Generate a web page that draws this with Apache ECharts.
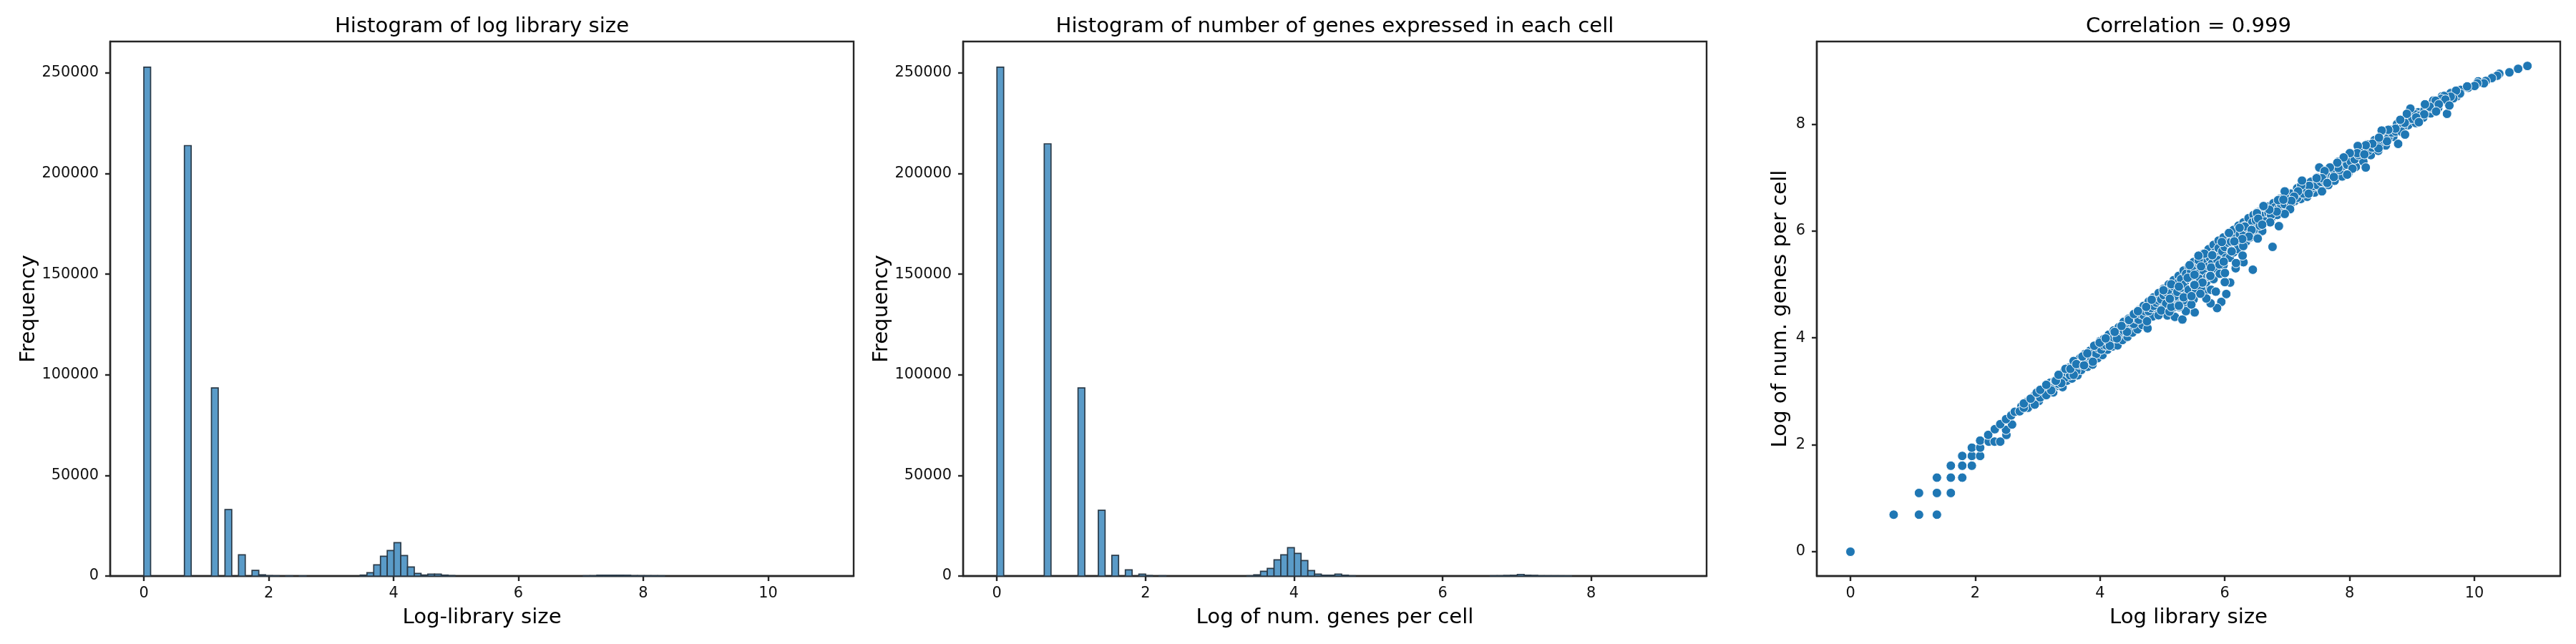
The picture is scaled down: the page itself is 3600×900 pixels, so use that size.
<!DOCTYPE html>
<html><head><meta charset="utf-8">
<style>html,body{margin:0;padding:0;background:#fff}#c{width:3600px;height:900px}</style>
<script src="https://cdn.jsdelivr.net/npm/echarts@6/dist/echarts.min.js"></script>
</head><body><div id="c"></div>
<script>
const titles = ['Histogram of log library size','Histogram of number of genes expressed in each cell','Correlation = 0.999'];
const xNames = ['Log-library size','Log of num. genes per cell','Log library size'];
const yNames = ['Frequency','Frequency','Log of num. genes per cell'];
const xTicks1 = [0,2,4,6,8,10];
const xTicks2 = [0,2,4,6,8];
const xTicks3 = [0,2,4,6,8,10];
const yTicksHist = [0,50000,100000,150000,200000,250000];
const yTicksScatter = [0,2,4,6,8];

const binWidth1 = 0.1083;
const bins1 = [0,6,10,12,14,16,17,18,19,21,23,32,33,34,35,36,37,38,39,40,41,42,43,44,45,65,66,67,68,69,70,71,72,73,74,75,76];
const counts1 = [252900,213900,93500,33000,10500,2800,600,150,100,80,60,450,1660,5570,9800,12700,16600,10200,4500,1300,500,950,950,450,200,100,120,400,420,420,400,380,150,130,120,110,90];

const binWidth2 = 0.091;
const bins2 = [0,7,12,15,17,19,21,22,24,37,38,39,40,41,42,43,44,45,46,47,48,49,50,51,52,73,74,75,76,77,78,79,80,81,82,83,84];
const counts2 = [252900,214800,93500,32700,10300,3100,950,200,100,100,600,2370,3800,8050,10550,14100,11250,7700,2700,950,400,400,950,400,100,100,110,250,350,800,400,300,90,80,80,70,60];

const scatterBand = [
[2.58,2.56],[2.66,2.62],[2.74,2.72],[2.82,2.8],[2.9,2.78],[2.95,2.92],[3.02,2.82],[3.08,3.02],[3.14,3.0],[3.2,3.16],[3.25,2.98],[3.3,3.1],[3.34,3.26],[3.4,3.08],[3.42,3.36],[3.47,3.2],[3.5,3.44],[3.55,3.24],[3.6,3.54],[3.64,3.3],[3.68,3.62],[3.7,3.4],[3.76,3.7],[3.8,3.46],[3.84,3.76],[3.88,3.5],[3.92,3.84],[3.96,3.62],[4.0,3.94],[4.04,3.68],[4.06,3.98],[4.12,3.78],[4.14,4.06],[4.2,3.84],[4.22,4.14],[4.28,3.86],[4.3,4.2],[4.36,3.96],[4.38,4.3],[4.44,4.02],[4.46,4.36],[4.52,4.1],[4.54,4.44],[4.6,4.16],[4.62,4.52],[4.68,4.24],[4.7,4.6],[4.76,4.36],[4.78,4.68],[4.84,4.4],[4.86,4.76],[4.92,4.54],[4.94,4.84],[5.0,4.64],[5.02,4.92],[5.08,4.42],[5.1,5.0],[5.16,4.56],[5.18,5.08],[5.24,4.68],[5.26,5.16],[5.32,4.8],[5.34,5.26],[5.4,4.62],[5.42,5.34],[5.48,4.84],[5.5,5.42],[5.56,4.96],[5.58,5.5],[5.64,4.86],[5.66,5.58],[5.72,4.9],[5.74,5.66],[5.8,5.2],[5.82,5.74],[5.88,5.24],[5.9,5.82],[5.96,5.5],[5.98,5.88],[6.04,5.5],[6.06,5.96],[6.12,5.66],[6.14,6.02],[6.2,5.76],[6.22,6.1],[6.28,5.9],[6.3,6.16],[6.36,5.96],[6.38,6.24],[6.44,5.98],[6.46,6.3],[6.52,6.04],[6.54,6.36],[6.6,6.0],[6.62,6.42],[6.68,6.22],[6.7,6.46],[6.76,6.26],[6.78,6.52],[6.84,6.3],[6.88,6.6],[6.94,6.44],[6.96,6.66],[7.02,6.46],[7.06,6.7],[7.12,6.56],[7.16,6.8],[7.22,6.6],[7.26,6.86],[7.32,6.64],[7.38,6.92],[7.44,6.72],[7.48,7.0],[7.54,6.78],[7.6,7.08],[7.66,6.86],[7.7,7.16],[7.76,6.94],[7.82,7.3],[7.88,7.02],[7.92,7.36],[7.98,7.08],[8.04,7.44],[8.1,7.2],[8.16,7.54],[8.22,7.3],[8.28,7.62],[8.34,7.42],[8.4,7.7],[8.46,7.5],[8.52,7.8],[8.58,7.6],[8.64,7.9],[8.7,7.76],[8.76,8.0],[8.82,7.86],[8.86,8.08],[8.94,7.98],[8.98,8.24],[9.06,8.02],[9.1,8.22],[9.18,8.12],[9.24,8.36],[9.3,8.2],[9.34,8.44],[9.42,8.3],[9.48,8.52],[9.56,8.42],[9.62,8.58],[9.72,8.52],[9.78,8.64],[9.9,8.68],[10.06,8.8]
];
const scatterInner = [
[2.9,2.86],[2.98,2.88],[3.06,2.96],[3.12,3.04],[3.18,3.1],[3.24,3.08],[3.28,3.2],[3.34,3.14],[3.38,3.28],[3.44,3.26],[3.48,3.34],[3.52,3.3],[3.58,3.44],[3.62,3.38],[3.66,3.5],[3.7,3.52],[3.74,3.6],[3.78,3.56],[3.82,3.66],[3.86,3.62],[3.9,3.72],[3.94,3.7],[3.98,3.8],[4.02,3.78],[4.06,3.86],[4.1,3.86],[4.14,3.92],[4.18,3.96],[4.22,4.0],[4.26,4.06],[4.3,4.06],[4.34,4.12],[4.38,4.14],[4.42,4.2],[4.46,4.22],[4.5,4.28],[4.54,4.26],[4.58,4.36],[4.62,4.34],[4.66,4.44],[4.7,4.42],[4.72,4.5],[4.78,4.5],[4.82,4.56],[4.86,4.6],[4.9,4.66],[4.94,4.7],[4.98,4.72],[5.02,4.8],[5.06,4.64],[5.06,4.86],[5.1,4.9],[5.14,4.72],[5.14,4.84],[5.18,4.96],[5.2,4.78],[5.24,4.86],[5.26,5.04],[5.3,4.94],[5.3,5.1],[5.34,4.7],[5.36,5.0],[5.38,5.2],[5.42,4.9],[5.44,5.08],[5.46,5.24],[5.5,4.72],[5.5,5.04],[5.52,5.3],[5.54,4.9],[5.56,5.2],[5.6,5.36],[5.6,5.1],[5.62,4.94],[5.66,5.26],[5.68,5.44],[5.7,5.04],[5.72,5.14],[5.74,5.34],[5.76,5.5],[5.78,4.9],[5.8,5.4],[5.82,5.1],[5.84,5.6],[5.86,5.3],[5.88,5.46],[5.9,5.68],[5.92,5.2],[5.96,5.62],[5.98,5.36],[6.0,5.7],[6.02,5.5],[6.06,5.78],[6.08,5.5],[6.1,5.8],[6.14,5.6],[6.16,5.86],[6.2,5.66],[6.24,5.94],[6.26,5.8],[6.3,5.98],[6.34,5.8],[6.36,6.06],[6.4,5.88],[6.44,6.16],[6.46,6.0],[6.5,6.2],[6.56,6.1],[6.6,6.28],[6.64,6.18],[6.7,6.34],[6.74,6.3],[6.8,6.44],[6.86,6.42],[6.9,6.5],[6.96,6.5],[7.0,6.6],[7.06,6.52],[7.1,6.62],[7.16,6.62],[7.2,6.72],[7.26,6.7],[7.32,6.76],[7.38,6.78],[7.42,6.84],[7.48,6.86],[7.54,6.92],[7.6,6.94],[7.66,7.02],[7.72,7.04],[7.76,7.1],[7.84,7.14],[7.9,7.22],[7.96,7.24],[8.02,7.3],[8.08,7.34],[8.14,7.42],[8.2,7.46],[8.3,7.5],[8.36,7.56],[8.42,7.6],[8.5,7.66],[8.56,7.7],[8.62,7.74],[8.68,7.84],[8.74,7.86],[8.8,7.94],[8.86,7.96],[8.92,8.06],[9.0,8.1],[9.06,8.18],[9.12,8.16],[9.2,8.26],[9.3,8.3],[9.4,8.42],[9.5,8.46],[9.6,8.5]
];
const scatterFront = [
[0,0],[0.693,0.693],[1.099,0.693],[1.386,0.693],[1.099,1.099],[1.386,1.099],[1.609,1.099],[1.386,1.386],[1.609,1.386],[1.792,1.386],[1.609,1.609],[1.792,1.609],[1.946,1.609],[1.792,1.792],[1.946,1.792],[2.079,1.792],[1.946,1.946],[2.079,1.946],[2.079,2.079],[2.217,2.06],[2.31,2.06],[2.401,2.06],[2.208,2.185],[2.5,2.185],[2.314,2.292],[2.494,2.28],[2.401,2.386],[2.59,2.38],[2.494,2.48],
[2.577,2.55],[2.634,2.618],[2.713,2.627],[2.845,2.694],[2.779,2.694],[2.779,2.774],[2.954,2.752],[2.888,2.863],[3.042,2.885],[2.985,2.975],[3.139,2.93],[3.042,3.028],[3.218,3.019],[3.139,3.122],[3.38,3.153],[3.292,3.198],[3.336,3.309],[3.577,3.309],[3.446,3.42],[3.525,3.42],[3.577,3.568],[3.621,3.51],[3.744,3.487],[3.718,3.652],[3.885,3.554],[3.797,3.71],[3.907,3.853],[3.994,3.911],[4.157,3.853],[4.091,3.991],[4.271,3.991],[4.235,4.112],[4.433,4.112],[4.345,4.223],[4.464,4.335],[4.762,4.179],[4.753,4.312],[4.543,4.446],[4.608,4.5],[4.74,4.58],[4.938,4.424],[4.98,4.513],[5.2,4.393],[5.32,4.344],[5.517,4.477],[5.376,4.5],[5.113,4.49],[5.267,4.58],[5.464,4.624],[4.828,4.714],[5.122,4.727],[5.017,4.892],
[6.449,5.276],[6.3,5.415],[6.285,5.54],[6.174,5.303],[6.18,5.4],[6.086,5.035],[6.0,5.044],[6.024,4.821],[5.944,4.674],[5.876,4.558],[5.772,4.648],[5.856,4.866],[5.704,4.737],[5.608,4.826],[5.34,4.759],[5.466,4.781],[5.142,4.581],[5.264,4.603],[5.119,4.732],[5.646,5.035],[5.505,4.995],[5.142,5.004],[5.264,4.96],[5.405,5.125],[5.76,5.16],[6.002,5.214],[5.78,5.316],[5.914,5.374],[5.436,5.361],[5.581,5.45],[5.8,5.548],[5.673,5.575],[6.105,5.63],[6.296,5.718],[5.952,5.794],[6.525,5.874],[6.067,5.963],[6.307,6.088],[6.422,6.03],[6.514,6.342],
[8.259,7.188],[8.778,7.63],[9.561,8.192],[6.867,6.091],[6.765,5.703],
[10.85,9.088],[10.701,9.034],[10.561,8.968],[10.399,8.941],[10.365,8.905],[10.28,8.861],[10.182,8.807],[10.152,8.763],[10.046,8.763],[10.003,8.713],[9.884,8.705],[9.769,8.571],[9.705,8.624],[9.663,8.482],[9.62,8.513],[9.514,8.526],[9.471,8.473],[9.535,8.459],[9.378,8.437],[9.284,8.325],[9.208,8.37],[9.429,8.37],[9.599,8.348],[9.386,8.236],[9.195,8.183],[9.067,8.125],[8.974,8.29],[8.918,8.192],[9.11,8.036],[8.884,8.022],[8.812,8.08],[8.833,7.857],[8.888,7.804],[8.735,7.915],[8.62,7.893],[8.514,7.88],[8.599,7.679],[8.463,7.545],[8.365,7.634],[8.471,7.746],[8.259,7.603],[8.131,7.59],[8.122,7.456],[8.237,7.434],[8.003,7.456],[7.905,7.376],[8.046,7.166],[7.961,7.055],[7.82,7.179],[7.803,7.277],[7.684,7.188],[7.514,7.188],[7.599,7.121],[7.557,6.988],[7.471,6.988],[7.642,6.899],[7.748,7.01],[7.557,6.742],[7.352,6.845],[7.225,6.854],[7.237,6.943],[7.344,6.698],[7.174,6.742],[7.11,6.644],[7.067,6.564],[6.961,6.742],[6.854,6.577],[6.939,6.586],[7.046,6.408],[6.961,6.319],[6.833,6.363],[6.714,6.399],[6.62,6.466],[6.514,6.332],[6.535,6.23],[6.727,6.163],[6.599,6.118],[6.322,6.083],[6.429,6.02],[6.237,6.06],[6.386,5.895],[6.527,5.859],[6.28,5.85],[6.152,5.806],[6.11,5.619],[5.799,5.547],[5.578,5.538],[5.982,5.427],[5.62,5.338],[5.769,5.159],[5.514,5.182],[5.642,5.035],[5.514,4.99]
];

const GREY='#262626', FILL='#5a9bc8', EDGE='#2a3a48', DOT='#1f77b4';
const FONT='DejaVu Sans';
const grids=[{left:154,width:1039,top:58,height:747},{left:1346,width:1039,top:58,height:747},{left:2539,width:1039,top:58,height:747}];
const centers=grids.map(g=>g.left+g.width/2-5);

function axis(type,i,min,max,ticks,name,gap,margin){
  return {type:'value',gridIndex:i,min,max,scale:true,name,nameLocation:'middle',nameGap:gap,
    nameTextStyle:{fontFamily:FONT,fontSize:29.17,color:'#000'},
    splitLine:{show:false},
    axisLine:{show:true,onZero:false,lineStyle:{color:GREY,width:2.4}},
    axisTick:{show:true,length:7,customValues:ticks,lineStyle:{color:GREY,width:2.4}},
    axisLabel:{show:true,margin,customValues:ticks,formatter:v=>String(v),fontFamily:FONT,fontSize:20.83,color:'#111'}};
}
function histData(bins,counts,w){return bins.map((b,i)=>[b*w,(b+1)*w,counts[i]]);}
function renderBar(params,api){
  const a=api.coord([api.value(0),0]), b=api.coord([api.value(1),api.value(2)]);
  return {type:'rect',shape:{x:a[0],y:b[1],width:b[0]-a[0],height:a[1]-b[1]},style:{fill:FILL,stroke:EDGE,lineWidth:1.7}};
}
const hist=(i,d)=>({type:'custom',xAxisIndex:i,yAxisIndex:i,renderItem:renderBar,clip:false,encode:{x:[0,1],y:2},data:d,silent:true,animation:false});

const chart=echarts.init(document.getElementById('c'),null,{renderer:'canvas',width:3600,height:900,devicePixelRatio:1});
chart.setOption({
  animation:false,backgroundColor:'#fff',
  title:titles.map((t,i)=>({text:t,left:centers[i],top:18,textAlign:'center',textStyle:{fontFamily:FONT,fontSize:29.17,fontWeight:'normal',color:'#000'}})),
  grid:grids.map(g=>({...g,show:true,borderColor:GREY,borderWidth:2.4,backgroundColor:'#fff',containLabel:false})),
  xAxis:[axis('x',0,-0.539,11.37,xTicks1,xNames[0],44,14),axis('x',1,-0.455,9.555,xTicks2,xNames[1],44,14),axis('x',2,-0.539,11.376,xTicks3,xNames[2],44,14)],
  yAxis:[axis('y',0,0,265650,yTicksHist,yNames[0],99,16),axis('y',1,0,265650,yTicksHist,yNames[1],99,16),axis('y',2,-0.4545,9.545,yTicksScatter,yNames[2],36,16)],
  series:[
    hist(0,histData(bins1,counts1,binWidth1)),
    hist(1,histData(bins2,counts2,binWidth2)),
    {type:'scatter',xAxisIndex:2,yAxisIndex:2,symbolSize:13,silent:true,animation:false,large:false,
     itemStyle:{color:DOT,borderColor:'#fff',borderWidth:1,opacity:1},
     data:scatterBand.concat(scatterInner,scatterFront)}
  ]
});
</script></body></html>
